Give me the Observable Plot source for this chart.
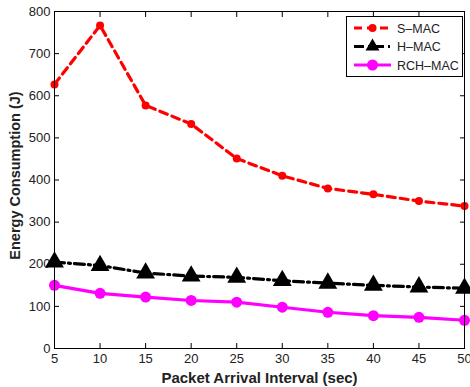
<!DOCTYPE html>
<html><head><meta charset="utf-8">
<script src="https://cdn.jsdelivr.net/npm/d3@7"></script>
<script src="https://cdn.jsdelivr.net/npm/@observablehq/plot@0.6"></script>
<style>
body{margin:0;background:#fff;}
#wrap{position:relative;width:470px;height:387px;font-family:"Liberation Sans",Arial,sans-serif;}
#wrap svg text{fill:#222;}
#legend{position:absolute;left:346px;top:16px;}
</style>
</head><body>
<div id="wrap"></div>
<script>
const intervals = [5, 10, 15, 20, 25, 30, 35, 40, 45, 50];
const smac   = [627, 767, 577, 533, 451, 410, 380, 366, 350, 338];
const hmac   = [205, 197, 179, 172, 169, 161, 155, 150, 146, 143];
const rchmac = [150, 131, 122, 114, 110, 98, 86, 78, 74, 67];
const xTicks = [5, 10, 15, 20, 25, 30, 35, 40, 45, 50];
const yTicks = [0, 100, 200, 300, 400, 500, 600, 700, 800];
const seriesNames = ["S\u2013MAC", "H\u2013MAC", "RCH\u2013MAC"];
const xLabel = "Packet Arrival Interval (sec)";
const yLabel = "Energy Consumption (J)";

const rows = (vals) => intervals.map((x, i) => ({x, y: vals[i]}));
const S = rows(smac), H = rows(hmac), R = rows(rchmac);

const chart = Plot.plot({
  width: 470, height: 387,
  marginLeft: 54, marginRight: 6, marginTop: 11, marginBottom: 39,
  style: {fontFamily: '"Liberation Sans", Arial, sans-serif', fontSize: "13px", background: "#fff"},
  x: {domain: [5, 50]},
  y: {domain: [0, 800]},
  marks: [
    Plot.axisX({ticks: xTicks, tickSize: -5, tickPadding: 10, tickFormat: d => d, label: null}),
    Plot.axisX({ticks: xTicks, anchor: "top", tickSize: -5, tickFormat: () => "", label: null}),
    Plot.axisY({ticks: yTicks, tickSize: -5, tickPadding: 9, tickFormat: d => d, label: null}),
    Plot.axisY({ticks: yTicks, anchor: "right", tickSize: -5, tickFormat: () => "", label: null}),
    Plot.text([xLabel], {text: d => d, frameAnchor: "bottom", lineAnchor: "bottom", dy: 34, fontWeight: "bold", fontSize: 15, fill: "#111"}),
    Plot.text([yLabel], {text: d => d, frameAnchor: "left", textAnchor: "middle", lineAnchor: "top", rotate: -90, dx: -45, dy: -4.5, fontWeight: "bold", fontSize: 14.5, fill: "#111"}),
    Plot.line(S, {x: "x", y: "y", stroke: "#ff0000", strokeWidth: 3.2, strokeDasharray: "8,5"}),
    Plot.dot(S, {x: "x", y: "y", r: 4, fill: "#ff0000"}),
    Plot.line(H, {x: "x", y: "y", stroke: "#000", strokeWidth: 3.2, strokeDasharray: "10,4,2,4"}),
    Plot.dot(H, {x: "x", y: "y", symbol: "triangle", r: 7, fill: "#000"}),
    Plot.line(R, {x: "x", y: "y", stroke: "#ff00ff", strokeWidth: 3.2}),
    Plot.dot(R, {x: "x", y: "y", r: 5.5, fill: "#ff00ff"}),
    Plot.frame({stroke: "#000", strokeWidth: 1})
  ]
});
const wrap = document.getElementById("wrap");
wrap.appendChild(chart);

// legend
const ns = "http://www.w3.org/2000/svg";
const leg = d3.create("svg").attr("id", "legend").attr("width", 117).attr("height", 61)
  .attr("xmlns", ns).style("font-family", '"Liberation Sans", Arial, sans-serif');
leg.append("rect").attr("x", 0.5).attr("y", 0.5).attr("width", 116).attr("height", 60).attr("fill", "#fff").attr("stroke", "#000");
const styles = [
  {stroke: "#ff0000", dash: "8,5", marker: "circle", r: 4},
  {stroke: "#000", dash: "10,4,2,4", marker: "triangle", r: 7},
  {stroke: "#ff00ff", dash: null, marker: "circle", r: 5.5}
];
seriesNames.forEach((name, i) => {
  const cy = 12 + i * 18.5;
  const st = styles[i];
  leg.append("line").attr("x1", 8).attr("x2", 45).attr("y1", cy).attr("y2", cy)
    .attr("stroke", st.stroke).attr("stroke-width", 3.2).attr("stroke-dasharray", st.dash);
  if (st.marker === "circle") {
    leg.append("circle").attr("cx", 26.5).attr("cy", cy).attr("r", st.r).attr("fill", st.stroke);
  } else {
    leg.append("path").attr("transform", `translate(26.5,${cy})`).attr("d", d3.symbol(d3.symbolTriangle, Math.PI * 49 * 0.55)()).attr("fill", st.stroke);
  }
  leg.append("text").attr("x", 51).attr("y", cy + 4.5).attr("font-size", 12.5).attr("fill", "#222").text(name);
});
wrap.appendChild(leg.node());
</script>
</body></html>
